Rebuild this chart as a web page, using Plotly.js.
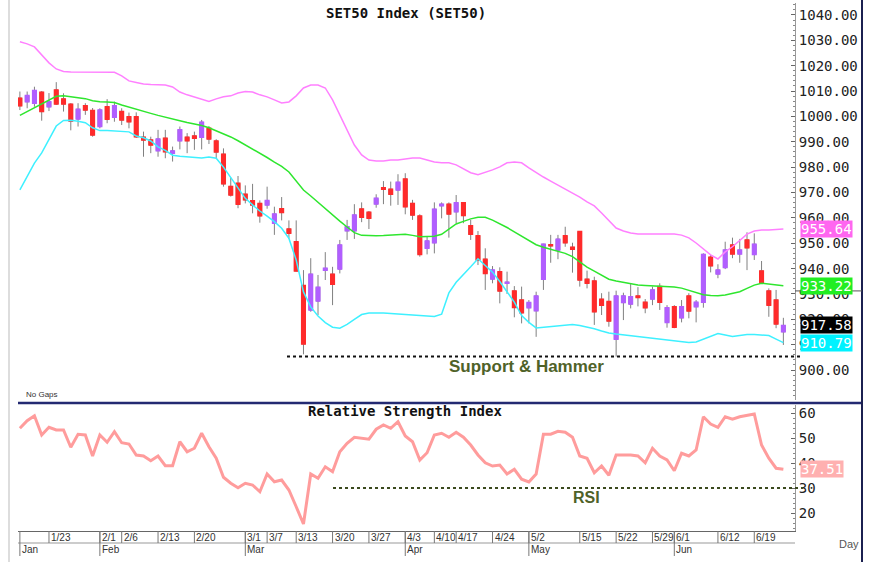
<!DOCTYPE html>
<html>
<head>
<meta charset="utf-8">
<script src="https://cdn.plot.ly/plotly-3.0.1.min.js"></script>
<style>
  html, body { margin: 0; padding: 0; background: #ffffff; }
  #chart { width: 878px; height: 562px; }
</style>
</head>
<body>
<div id="chart"></div>
<script>
// ---------- data ----------
const dates = [
  '2023-01-17','2023-01-18','2023-01-19','2023-01-20','2023-01-23','2023-01-24','2023-01-25','2023-01-26','2023-01-27','2023-01-30','2023-01-31',
  '2023-02-01','2023-02-02','2023-02-03','2023-02-06','2023-02-07','2023-02-08','2023-02-09','2023-02-10','2023-02-13','2023-02-14','2023-02-15','2023-02-16','2023-02-17','2023-02-20','2023-02-21','2023-02-22','2023-02-23','2023-02-24','2023-02-27','2023-02-28',
  '2023-03-01','2023-03-02','2023-03-03','2023-03-07','2023-03-08','2023-03-09','2023-03-10','2023-03-13','2023-03-14','2023-03-15','2023-03-16','2023-03-17','2023-03-20','2023-03-21','2023-03-22','2023-03-23','2023-03-24','2023-03-27','2023-03-28','2023-03-29','2023-03-30','2023-03-31',
  '2023-04-03','2023-04-04','2023-04-05','2023-04-07','2023-04-10','2023-04-11','2023-04-12','2023-04-17','2023-04-18','2023-04-19','2023-04-20','2023-04-21','2023-04-24','2023-04-25','2023-04-26','2023-04-27','2023-04-28',
  '2023-05-02','2023-05-03','2023-05-08','2023-05-09','2023-05-10','2023-05-11','2023-05-12','2023-05-15','2023-05-16','2023-05-17','2023-05-18','2023-05-19','2023-05-22','2023-05-23','2023-05-24','2023-05-25','2023-05-26','2023-05-29','2023-05-30','2023-05-31',
  '2023-06-01','2023-06-02','2023-06-06','2023-06-07','2023-06-08','2023-06-09','2023-06-12','2023-06-13','2023-06-14','2023-06-15','2023-06-16','2023-06-19','2023-06-20','2023-06-21','2023-06-22','2023-06-23'
];

const openP = [
  1007.2,1005.8,1005.2,1009.5,1003.8,1010.4,1006.9,1004.8,999.0,1004.2,1002.3,
  996.0,1003.8,999.7,1001.9,999.9,999.9,991.8,990.7,986.5,991.4,985.5,990.4,991.8,992.3,991.8,995.3,990.3,985.1,972.4,973.6,
  969.3,966.7,965.7,965.1,957.9,963.6,955.6,950.6,933.3,923.7,927.2,939.3,937.8,939.8,954.9,954.9,963.5,962.2,965.5,971.9,971.3,971.0,
  975.3,965.7,960.7,948.0,950.2,964.8,965.4,962.4,966.0,956.9,952.9,943.7,935.9,938.8,934.2,931.2,927.6,
  924.6,923.4,935.8,949.4,947.3,952.9,948.4,954.6,935.8,935.1,927.9,927.0,912.1,926.6,926.0,929.2,926.7,928.0,932.9,918.8,
  925.0,920.6,929.2,925.0,926.7,944.5,937.9,940.4,949.3,945.8,951.3,945.6,939.1,931.2,927.6,915.1
];
const highP = [
  1009.8,1009.8,1011.7,1010.0,1009.2,1013.5,1009.1,1005.2,1005.2,1005.2,1003.3,
  1003.2,1006.8,1005.8,1003.2,1001.5,1001.6,994.0,992.0,994.7,994.7,988.1,996.0,993.4,994.0,998.6,996.2,991.0,987.4,975.9,976.5,
  972.8,973.4,966.9,972.3,964.4,968.2,959.0,959.0,939.4,944.1,937.5,946.5,940.7,951.3,959.2,965.4,966.1,962.7,969.3,974.5,974.3,977.2,
  977.6,967.1,961.4,952.6,966.1,966.1,966.1,969.0,966.1,959.2,954.8,948.0,941.0,940.5,938.8,933.1,932.9,
  927.6,930.9,949.8,953.3,953.3,956.5,950.2,954.8,939.2,936.8,930.3,930.9,931.3,930.5,933.9,932.7,928.0,932.9,934.2,925.6,
  925.6,927.6,930.3,927.6,946.0,945.4,941.7,950.6,952.2,951.7,954.3,953.9,943.0,932.2,931.6,920.6
];
const lowP = [
  1002.5,1003.2,1003.8,998.3,1002.1,1004.5,1001.9,994.5,996.0,1000.6,992.0,
  995.3,997.3,997.9,996.6,995.3,991.5,984.1,985.5,984.1,983.5,982.2,987.0,985.5,986.8,987.0,989.1,983.5,972.3,968.4,963.8,
  965.7,961.8,958.1,963.6,953.3,959.0,951.8,938.8,906.2,923.0,921.7,935.5,925.6,938.1,951.3,951.7,958.3,955.6,964.0,965.4,964.8,965.1,
  961.4,959.2,944.7,945.6,946.0,959.8,952.2,957.9,957.9,951.3,941.4,931.6,934.2,926.3,930.0,920.8,918.4,
  918.4,913.1,931.6,942.3,943.7,948.6,938.4,932.9,932.2,917.8,921.7,917.1,905.3,919.7,924.3,925.1,922.4,925.6,923.7,916.7,
  916.5,918.8,920.4,918.8,924.6,938.5,936.2,939.8,944.1,942.3,939.4,943.4,934.0,921.0,916.5,909.9
];
const closeP = [
  1004.2,1008.2,1010.2,1001.9,1005.8,1004.9,1004.9,998.2,1002.8,1002.5,992.7,
  1002.5,998.9,1004.2,998.6,997.9,992.0,990.7,988.7,991.1,986.1,986.4,994.7,990.4,991.4,997.7,991.1,986.0,973.4,969.0,965.4,
  967.1,965.1,960.8,966.8,961.5,962.1,953.9,939.1,910.3,937.8,932.6,940.1,933.8,949.3,956.5,961.1,960.2,959.8,967.7,971.3,969.3,974.0,
  964.4,961.1,945.6,950.9,963.4,965.4,961.5,966.0,960.9,953.5,943.4,938.1,939.4,931.2,934.6,924.7,922.6,
  926.6,929.2,949.6,949.0,951.6,950.2,947.6,935.5,934.2,923.0,925.6,919.3,929.2,929.2,928.9,928.6,924.6,931.6,926.7,924.6,
  916.9,925.0,923.3,926.7,945.6,941.1,939.4,947.3,945.8,947.3,948.2,949.6,934.2,925.6,918.2,917.58
];

// Bollinger bands (20-day) as drawn
const upperBand = [
  1029.4,1028.6,1027.4,1024.2,1021.1,1018.7,1017.7,1017.5,1017.5,1017.6,1017.6,
  1017.5,1017.5,1017.4,1016.0,1014.0,1013.4,1012.8,1012.6,1012.4,1012.4,1011.6,1009.6,1008.5,1007.6,1006.5,1005.9,1006.9,1007.7,1008.1,1009.2,
  1009.8,1009.6,1008.5,1007.7,1006.5,1005.3,1005.7,1008.1,1011.2,1012.4,1012.4,1011.2,1006.5,1000.6,994.7,988.7,984.8,982.8,982.4,982.4,982.8,982.8,
  983.2,983.6,983.6,982.8,982.0,981.7,981.7,980.9,979.3,977.8,977.0,977.8,978.9,980.1,981.7,982.0,981.7,
  979.7,977.8,976.1,974.5,973.0,971.4,969.8,968.2,966.3,964.7,961.9,958.8,956.0,954.8,954.0,953.6,953.6,953.6,953.6,953.8,
  953.6,953.2,952.1,950.1,947.7,945.4,943.8,946.6,948.6,951.3,953.6,954.8,955.2,955.2,955.4,955.64
];
const midBand = [
  1000.4,1001.9,1003.3,1004.9,1006.3,1007.9,1008.1,1007.8,1007.4,1007.0,1006.2,
  1005.8,1005.7,1005.5,1004.5,1003.6,1002.7,1001.9,1001.2,1000.4,999.8,999.0,998.3,997.6,997.0,996.4,995.5,994.4,993.2,991.9,990.4,
  988.8,987.2,985.5,983.8,982.0,980.3,978.1,974.7,971.0,968.6,966.1,963.7,961.0,958.7,956.4,954.2,953.1,952.9,952.9,953.0,953.2,953.3,
  953.5,953.1,952.6,952.7,952.8,953.5,955.6,957.6,958.6,959.6,960.2,960.2,959.1,957.8,956.2,954.5,952.9,
  951.1,949.4,948.4,947.6,946.8,946.0,944.7,942.7,940.6,939.0,937.4,935.8,935.1,934.5,933.8,933.5,933.3,933.2,933.0,932.8,
  932.7,932.3,931.5,930.5,929.7,929.4,929.3,929.6,930.3,930.9,932.2,933.5,934.2,933.9,933.5,933.22
];
const lowerBand = [
  971.0,976.5,981.6,985.6,991.1,996.2,998.4,998.5,998.1,997.5,995.5,
  994.4,994.4,994.3,994.1,993.9,992.3,991.6,990.3,988.0,986.6,984.7,984.3,984.0,983.7,983.6,984.0,983.5,980.0,975.9,971.4,
  967.7,965.1,962.7,960.7,958.5,955.9,951.9,943.4,930.8,924.9,921.3,918.7,916.9,916.5,918.0,920.0,921.9,922.5,922.6,922.5,922.3,922.1,
  921.9,921.7,921.5,921.3,921.1,922.0,930.4,934.6,937.5,940.7,943.9,941.4,938.6,934.9,930.9,926.8,921.5,
  918.8,916.6,916.9,917.2,917.6,917.9,918.0,917.6,917.1,916.3,915.4,914.6,914.2,913.9,913.5,913.2,912.9,912.5,912.3,911.9,
  911.6,911.3,910.9,911.1,912.1,913.3,914.4,913.8,913.2,913.6,914.0,914.0,913.9,913.6,912.2,910.79
];

const rsi = [
  53.9,56.9,58.9,51.2,54.3,53.2,53.2,46.3,51.5,51.2,42.8,
  51.2,48.3,52.5,48.1,47.6,43.2,42.8,40.9,42.8,38.9,38.9,48.5,44.5,45.9,51.9,46.5,41.9,34.3,31.9,30.1,
  31.9,31.2,28.5,35.6,32.5,33.2,29.2,22.5,15.6,35.6,33.9,38.5,36.5,44.5,47.9,50.3,49.9,49.5,53.5,55.2,53.9,56.5,
  50.8,48.5,41.2,44.1,51.2,51.9,50.3,52.3,50.3,47.2,43.2,40.1,38.8,39.2,35.6,37.5,33.5,
  32.4,35.6,51.5,51.5,52.7,52.3,50.3,42.8,41.9,36.1,38.8,35.1,43.2,43.2,43.2,42.8,40.1,45.9,42.8,41.2,
  36.9,43.9,42.8,45.2,58.5,55.6,54.3,58.5,57.5,58.5,59.2,59.6,47.2,41.9,37.9,37.51
];

const priceTicks = [900,910,920,930,940,950,960,970,980,990,1000,1010,1020,1030,1040];
const rsiTicks = [20,30,40,50,60];

const dayTickDates = ['2023-01-23','2023-02-01','2023-02-06','2023-02-13','2023-02-20','2023-03-01','2023-03-07','2023-03-13','2023-03-20','2023-03-27','2023-04-03','2023-04-10','2023-04-17','2023-04-24','2023-05-02','2023-05-15','2023-05-22','2023-05-29','2023-06-01','2023-06-12','2023-06-19'];
const dayTickText  = ['1/23','2/1','2/6','2/13','2/20','3/1','3/7','3/13','3/20','3/27','4/3','4/10','4/17','4/24','5/2','5/15','5/22','5/29','6/1','6/12','6/19'];
const monthTickDates = ['2023-01-17','2023-02-01','2023-03-01','2023-04-03','2023-05-02','2023-06-01'];
const monthTickText  = ['Jan','Feb','Mar','Apr','May','Jun'];

const supportLevel = 905.3;
const rsiLevel = 30;

// ---------- styling ----------
const RED = '#ff2b2b', PURPLE = '#b15eff', WICK = '#808080';
const MONO = 'DejaVu Sans Mono, Liberation Mono, monospace';
const NARROW = 'Liberation Sans Narrow, Arial Narrow, Liberation Sans, Arial, sans-serif';
const OLIVE = '#4f6228';

const bodyHigh = openP.map((o, i) => Math.max(o, closeP[i]));
const bodyLow  = openP.map((o, i) => Math.min(o, closeP[i]));

const traces = [
  { type: 'scatter', mode: 'lines', x: dates, y: upperBand, xaxis: 'x', yaxis: 'y',
    line: { color: '#ff80ff', width: 1.5 }, hoverinfo: 'skip' },
  { type: 'scatter', mode: 'lines', x: dates, y: midBand, xaxis: 'x', yaxis: 'y',
    line: { color: '#2ee62e', width: 1.5 }, hoverinfo: 'skip' },
  { type: 'scatter', mode: 'lines', x: dates, y: lowerBand, xaxis: 'x', yaxis: 'y',
    line: { color: '#3ef0ff', width: 1.5 }, hoverinfo: 'skip' },
  { type: 'candlestick', x: dates, open: openP, high: highP, low: lowP, close: closeP,
    xaxis: 'x', yaxis: 'y', whiskerwidth: 0,
    increasing: { line: { color: WICK, width: 1 }, fillcolor: PURPLE },
    decreasing: { line: { color: WICK, width: 1 }, fillcolor: RED } },
  { type: 'candlestick', x: dates, open: openP, high: bodyHigh, low: bodyLow, close: closeP,
    xaxis: 'x', yaxis: 'y', whiskerwidth: 0,
    increasing: { line: { color: PURPLE, width: 1.5 }, fillcolor: PURPLE },
    decreasing: { line: { color: RED, width: 1.5 }, fillcolor: RED } },
  { type: 'scatter', mode: 'lines', x: dates, y: rsi, xaxis: 'x', yaxis: 'y2',
    line: { color: '#ff9c9c', width: 3 }, hoverinfo: 'skip' }
];

// pixel helpers for paper coordinates
const W = 878, H = 562, ML = 18, MR = 83, MT = 3, MB = 31;
const PW = W - ML - MR, PH = H - MT - MB;
const px = v => (v - ML) / PW;
const py = v => (H - MB - v) / PH;

const shapes = [];
const annotations = [];

// axis decoration lines
shapes.push({ type: 'line', xref: 'paper', yref: 'paper', x0: px(18), x1: px(862), y0: py(403), y1: py(403), line: { color: '#232a72', width: 2.5 } });
shapes.push({ type: 'line', xref: 'paper', yref: 'paper', x0: px(862), x1: px(862), y0: py(0), y1: py(562), line: { color: '#1b2050', width: 2 } });
shapes.push({ type: 'line', xref: 'paper', yref: 'paper', x0: px(9), x1: px(9), y0: py(0), y1: py(562), line: { color: '#dddddd', width: 2 } });
shapes.push({ type: 'line', xref: 'paper', yref: 'paper', x0: 0, x1: 1, y0: py(543), y1: py(543), line: { color: '#999999', width: 1 } });

// support + RSI reference lines
shapes.push({ type: 'line', xref: 'paper', yref: 'y', x0: px(287), x1: px(803), y0: supportLevel, y1: supportLevel, line: { color: '#111111', width: 2, dash: 'dot' } });
shapes.push({ type: 'line', xref: 'paper', yref: 'y2', x0: px(333), x1: px(803), y0: rsiLevel, y1: rsiLevel, line: { color: '#3b4a1e', width: 2, dash: 'dot' } });
shapes.push({ type: 'line', xref: 'paper', yref: 'y', x0: 1, x1: px(862), y0: 931.2, y1: 931.2, line: { color: '#555555', width: 1 } });

// x tick marks and labels
dayTickDates.forEach((d, k) => {
  shapes.push({ type: 'line', xref: 'x', yref: 'paper', x0: d, x1: d, y0: 0, y1: py(543), line: { color: '#777777', width: 1 } });
  annotations.push({ xref: 'x', yref: 'paper', x: d, y: py(537.5), xanchor: 'left', yanchor: 'middle', xshift: 0,
    text: dayTickText[k], showarrow: false, font: { family: NARROW, size: 10, color: '#333333' } });
});
monthTickDates.forEach((d, k) => {
  shapes.push({ type: 'line', xref: 'x', yref: 'paper', x0: d, x1: d, y0: 0, y1: py(556), line: { color: '#777777', width: 1 } });
  annotations.push({ xref: 'x', yref: 'paper', x: d, y: py(549.5), xanchor: 'left', yanchor: 'middle', xshift: 0,
    text: monthTickText[k], showarrow: false, font: { family: NARROW, size: 10, color: '#333333' } });
});

// titles and notes
annotations.push({ xref: 'paper', yref: 'paper', x: px(406), y: py(13), text: '<b>SET50 Index (SET50)</b>', showarrow: false,
  font: { family: MONO, size: 14, color: '#111111' }, xanchor: 'center', yanchor: 'middle' });
annotations.push({ xref: 'paper', yref: 'paper', x: px(405), y: py(411), text: '<b>Relative Strength Index</b>', showarrow: false,
  font: { family: MONO, size: 14, color: '#111111' }, xanchor: 'center', yanchor: 'middle' });
annotations.push({ xref: 'paper', yref: 'paper', x: px(24), y: py(394), text: 'No Gaps', showarrow: false,
  font: { family: 'Liberation Sans, Arial, sans-serif', size: 8, color: '#333333' }, xanchor: 'left', yanchor: 'middle' });
annotations.push({ xref: 'paper', yref: 'paper', x: px(526), y: py(366), text: '<b>Support &amp; Hammer</b>', showarrow: false,
  font: { family: 'Liberation Sans, Arial, sans-serif', size: 17, color: OLIVE }, xanchor: 'center', yanchor: 'middle' });
annotations.push({ xref: 'paper', yref: 'paper', x: px(586), y: py(497), text: '<b>RSI</b>', showarrow: false,
  font: { family: 'Liberation Sans, Arial, sans-serif', size: 16, color: OLIVE }, xanchor: 'center', yanchor: 'middle' });
annotations.push({ xref: 'paper', yref: 'paper', x: px(849), y: py(544), text: 'Day', showarrow: false,
  font: { family: 'Liberation Sans, Arial, sans-serif', size: 11, color: '#555555' }, xanchor: 'center', yanchor: 'middle' });

// last-value boxes on the right axis
const last = a => a[a.length - 1];
function valueBox(v, yref, bg, fg) {
  annotations.push({ xref: 'paper', yref: yref, x: px(800), y: v, xanchor: 'left', yanchor: 'middle',
    text: v.toFixed(2), showarrow: false, bgcolor: bg, borderpad: 0,
    font: { family: MONO, size: 14, color: fg } });
}
valueBox(last(upperBand), 'y', '#ff66f0', '#ffffff');
valueBox(last(midBand), 'y', '#22ee22', '#ffffff');
valueBox(last(closeP), 'y', '#000000', '#ffffff');
valueBox(last(lowerBand), 'y', '#00f2ff', '#ffffff');
valueBox(last(rsi), 'y2', '#ffb0b0', '#ffffff');

const layout = {
  width: W, height: H,
  margin: { l: ML, r: MR, t: MT, b: MB },
  paper_bgcolor: '#ffffff', plot_bgcolor: '#ffffff',
  showlegend: false,
  boxgap: 0.3,
  xaxis: {
    type: 'category', anchor: 'y2', range: [-0.26, 106.6],
    showticklabels: false, ticks: '', showgrid: false, zeroline: false,
    showline: true, linecolor: '#666666', linewidth: 1,
    rangeslider: { visible: false }, fixedrange: true
  },
  yaxis: {
    domain: [py(400), 1], range: [888.2, 1044.7], side: 'right', anchor: 'x',
    tickvals: priceTicks, tickformat: '.2f', showgrid: false, zeroline: false,
    showline: true, linecolor: '#999999', linewidth: 1,
    ticks: 'inside', ticklen: 4, tickcolor: '#666666',
    minor: { ticks: 'inside', ticklen: 2, dtick: 2, tickcolor: '#888888' },
    tickfont: { family: MONO, size: 14, color: '#222222' }, fixedrange: true
  },
  yaxis2: {
    domain: [0, py(405)], range: [12.8, 63.2], side: 'right', anchor: 'x',
    tickvals: rsiTicks, showgrid: false, zeroline: false,
    showline: true, linecolor: '#999999', linewidth: 1,
    ticks: 'inside', ticklen: 4, tickcolor: '#666666',
    minor: { ticks: 'inside', ticklen: 2, dtick: 2, tickcolor: '#888888' },
    tickfont: { family: MONO, size: 14, color: '#222222' }, fixedrange: true
  },
  shapes: shapes,
  annotations: annotations
};

Plotly.newPlot('chart', traces, layout, { displayModeBar: false, staticPlot: true });
</script>
</body>
</html>
